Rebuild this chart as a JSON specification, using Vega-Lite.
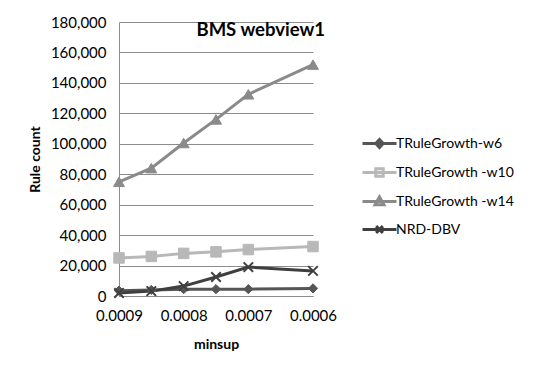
{
  "$schema": "https://vega.github.io/schema/vega-lite/v6.json",
  "width": 194,
  "height": 274,
  "autosize": "none",
  "padding": {"left": 119, "top": 22, "right": 237, "bottom": 79},
  "background": "white",
  "config": {"view": {"stroke": null}, "font": "Lato"},
  "title": {"text": "BMS webview1", "anchor": "end", "frame": "group", "dx": 12, "offset": -24, "fontSize": 18.5, "font": "Lato", "fontWeight": "bold", "color": "black"},
  "data": {"values": [
    {"minsup": 0.0009, "series": "TRuleGrowth-w6", "count": 3500},
    {"minsup": 0.00085, "series": "TRuleGrowth-w6", "count": 4000},
    {"minsup": 0.0008, "series": "TRuleGrowth-w6", "count": 4500},
    {"minsup": 0.00075, "series": "TRuleGrowth-w6", "count": 4500},
    {"minsup": 0.0007, "series": "TRuleGrowth-w6", "count": 4500},
    {"minsup": 0.0006, "series": "TRuleGrowth-w6", "count": 5000},
    {"minsup": 0.0009, "series": "TRuleGrowth -w10", "count": 25000},
    {"minsup": 0.00085, "series": "TRuleGrowth -w10", "count": 26000},
    {"minsup": 0.0008, "series": "TRuleGrowth -w10", "count": 28000},
    {"minsup": 0.00075, "series": "TRuleGrowth -w10", "count": 29000},
    {"minsup": 0.0007, "series": "TRuleGrowth -w10", "count": 30500},
    {"minsup": 0.0006, "series": "TRuleGrowth -w10", "count": 32500},
    {"minsup": 0.0009, "series": "TRuleGrowth  -w14", "count": 75000},
    {"minsup": 0.00085, "series": "TRuleGrowth  -w14", "count": 84000},
    {"minsup": 0.0008, "series": "TRuleGrowth  -w14", "count": 100500},
    {"minsup": 0.00075, "series": "TRuleGrowth  -w14", "count": 116000},
    {"minsup": 0.0007, "series": "TRuleGrowth  -w14", "count": 132500},
    {"minsup": 0.0006, "series": "TRuleGrowth  -w14", "count": 152000},
    {"minsup": 0.0009, "series": "NRD-DBV", "count": 2000},
    {"minsup": 0.00085, "series": "NRD-DBV", "count": 3200},
    {"minsup": 0.0008, "series": "NRD-DBV", "count": 6500},
    {"minsup": 0.00075, "series": "NRD-DBV", "count": 12500},
    {"minsup": 0.0007, "series": "NRD-DBV", "count": 19000},
    {"minsup": 0.0006, "series": "NRD-DBV", "count": 16500}
  ]},
  "encoding": {
    "x": {"field": "minsup", "type": "quantitative",
      "scale": {"domain": [0.0006, 0.0009], "reverse": true, "nice": false, "zero": false},
      "axis": {"values": [0.0009, 0.0008, 0.0007, 0.0006], "format": ".4f", "grid": false, "ticks": false,
        "labelFlush": false, "labelOverlap": false,
        "domainColor": "#8c8c8c", "labelPadding": 12, "labelFont": "Lato", "labelFontSize": 15, "labelColor": "black",
        "title": "minsup", "titleFont": "Lato", "titleFontSize": 14, "titleFontWeight": "bold", "titleColor": "black", "titlePadding": 14}},
    "y": {"field": "count", "type": "quantitative",
      "scale": {"domain": [0, 180000], "nice": false},
      "axis": {"values": [0, 20000, 40000, 60000, 80000, 100000, 120000, 140000, 160000, 180000], "format": ",.0f",
        "grid": true, "gridColor": "#8c8c8c", "gridWidth": 1, "ticks": false, "domainColor": "#8c8c8c",
        "labelOverlap": false, "labelFlush": false,
        "labelPadding": 13, "labelFont": "Lato", "labelFontSize": 15, "labelColor": "black",
        "title": "Rule count", "titleFont": "Lato", "titleFontSize": 14, "titleFontWeight": "bold", "titleColor": "black", "titlePadding": 8}}
  },
  "layer": [
    {
      "mark": {"type": "line", "strokeWidth": 3},
      "encoding": {
        "stroke": {"field": "series", "type": "nominal",
          "scale": {"domain": ["TRuleGrowth-w6", "TRuleGrowth -w10", "TRuleGrowth  -w14", "NRD-DBV"], "range": ["#555555", "#b8b8b8", "#8a8a8a", "#3f3f3f"]}}
      }
    },
    {
      "mark": {"type": "point", "filled": true, "opacity": 0, "size": 10},
      "encoding": {
        "fill": {"field": "series", "type": "nominal",
          "scale": {"domain": ["TRuleGrowth-w6", "TRuleGrowth -w10", "TRuleGrowth  -w14", "NRD-DBV"], "range": ["#555555", "#b8b8b8", "#8a8a8a", "#3f3f3f"]}},
        "stroke": {"field": "series", "type": "nominal"},
        "shape": {"field": "series", "type": "nominal",
          "scale": {"domain": ["TRuleGrowth-w6", "TRuleGrowth -w10", "TRuleGrowth  -w14", "NRD-DBV"],
            "range": ["M-1,0H1M0,-0.24L0.22,0L0,0.24L-0.22,0Z", "M-1,0H1M-0.22,-0.22H0.22V0.22H-0.22Z", "M-1,0H1M0,-0.27L0.26,0.19H-0.26Z", "M-1,0H1M-0.2,-0.2L0.2,0.2M-0.2,0.2L0.2,-0.2"]},
          "legend": {"orient": "none", "legendX": 242, "legendY": 103, "title": null,
            "labelFont": "Lato", "labelFontSize": 14, "labelColor": "black", "rowPadding": -4, "labelOffset": -2,
            "symbolSize": 1156, "symbolStrokeWidth": 3, "symbolOpacity": 1}}
      }
    },
    {
      "transform": [{"filter": "datum.series === 'TRuleGrowth-w6'"}],
      "mark": {"type": "point", "shape": "diamond", "filled": true, "size": 85, "fill": "#555555", "stroke": "#555555", "strokeWidth": 1, "opacity": 1}
    },
    {
      "transform": [{"filter": "datum.series === 'TRuleGrowth -w10'"}],
      "mark": {"type": "point", "shape": "square", "filled": true, "size": 110, "fill": "#b8b8b8", "stroke": "#b8b8b8", "strokeWidth": 1, "opacity": 1}
    },
    {
      "transform": [{"filter": "datum.series === 'TRuleGrowth  -w14'"}],
      "mark": {"type": "point", "shape": "triangle-up", "filled": true, "size": 120, "fill": "#8a8a8a", "stroke": "#8a8a8a", "strokeWidth": 1, "opacity": 1}
    },
    {
      "transform": [{"filter": "datum.series === 'NRD-DBV'"}],
      "mark": {"type": "point", "shape": "M-1,-1L1,1M-1,1L1,-1", "filled": false, "size": 90, "stroke": "#3f3f3f", "strokeWidth": 2, "opacity": 1}
    }
  ]
}
